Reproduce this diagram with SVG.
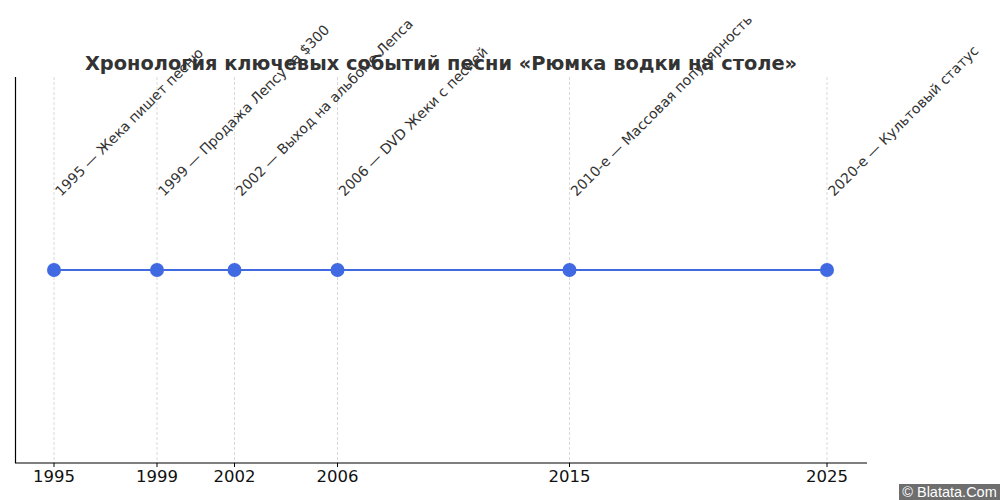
<svg xmlns="http://www.w3.org/2000/svg" width="1000" height="500" viewBox="0 0 1000 500">
<style>
.grid{stroke:#cfcfcf;stroke-width:0.8;stroke-dasharray:3,2}
.spine{stroke:#000;stroke-width:1.2;fill:none}
.tick{stroke:#000;stroke-width:1}
.tl{font-family:"DejaVu Sans",sans-serif;font-size:16.5px;fill:#111;text-anchor:middle}
.lbl{font-family:"DejaVu Sans",sans-serif;font-size:14px;fill:#333}
.title{font-family:"DejaVu Sans",sans-serif;font-size:19.4px;font-weight:bold;fill:#333;text-anchor:middle}
.pt{fill:#4169E1}
</style>
<rect width="1000" height="500" fill="#fff"/>
<g id="grid">
<line class="grid" x1="54" y1="77" x2="54" y2="463"/>
<line class="grid" x1="157" y1="77" x2="157" y2="463"/>
<line class="grid" x1="234.5" y1="77" x2="234.5" y2="463"/>
<line class="grid" x1="337.5" y1="77" x2="337.5" y2="463"/>
<line class="grid" x1="569.5" y1="77" x2="569.5" y2="463"/>
<line class="grid" x1="827" y1="77" x2="827" y2="463"/>
</g>
<g id="axes">
<path class="spine" d="M15.5 77 V463 H867"/>
<line class="tick" x1="54" y1="463" x2="54" y2="467"/>
<line class="tick" x1="157" y1="463" x2="157" y2="467"/>
<line class="tick" x1="234.5" y1="463" x2="234.5" y2="467"/>
<line class="tick" x1="337.5" y1="463" x2="337.5" y2="467"/>
<line class="tick" x1="569.5" y1="463" x2="569.5" y2="467"/>
<line class="tick" x1="827" y1="463" x2="827" y2="467"/>
<text class="tl" x="54" y="482">1995</text>
<text class="tl" x="157" y="482">1999</text>
<text class="tl" x="234.5" y="482">2002</text>
<text class="tl" x="337.5" y="482">2006</text>
<text class="tl" x="569.5" y="482">2015</text>
<text class="tl" x="827" y="482">2025</text>
</g>
<g id="connectors">
<line x1="54" y1="270" x2="827" y2="270" stroke="#4169E1" stroke-width="2"/>
</g>
<g id="n1995"><circle class="pt" cx="54" cy="270" r="7"/><text class="lbl" transform="translate(61,197) rotate(-45)">1995 — Жека пишет песню</text></g>
<g id="n1999"><circle class="pt" cx="157" cy="270" r="7"/><text class="lbl" transform="translate(164,197) rotate(-45)">1999 — Продажа Лепсу за $300</text></g>
<g id="n2002"><circle class="pt" cx="234.5" cy="270" r="7"/><text class="lbl" transform="translate(241.5,197) rotate(-45)">2002 — Выход на альбоме Лепса</text></g>
<g id="n2006"><circle class="pt" cx="337.5" cy="270" r="7"/><text class="lbl" transform="translate(344.5,197) rotate(-45)">2006 — DVD Жеки с песней</text></g>
<g id="n2015"><circle class="pt" cx="569.5" cy="270" r="7"/><text class="lbl" transform="translate(576.5,197) rotate(-45)">2010-е — Массовая популярность</text></g>
<g id="n2025"><circle class="pt" cx="827" cy="270" r="7"/><text class="lbl" transform="translate(834,197) rotate(-45)">2020-е — Культовый статус</text></g>
<text class="title" x="441" y="70">Хронология ключевых событий песни «Рюмка водки на столе»</text>
<g id="watermark">
<rect x="899" y="484" width="101" height="16" fill="#6e6e6e"/>
<text x="949.5" y="497" font-family="Liberation Sans, sans-serif" font-size="14.5" fill="#fff" text-anchor="middle">© Blatata.Com</text>
</g>
</svg>
